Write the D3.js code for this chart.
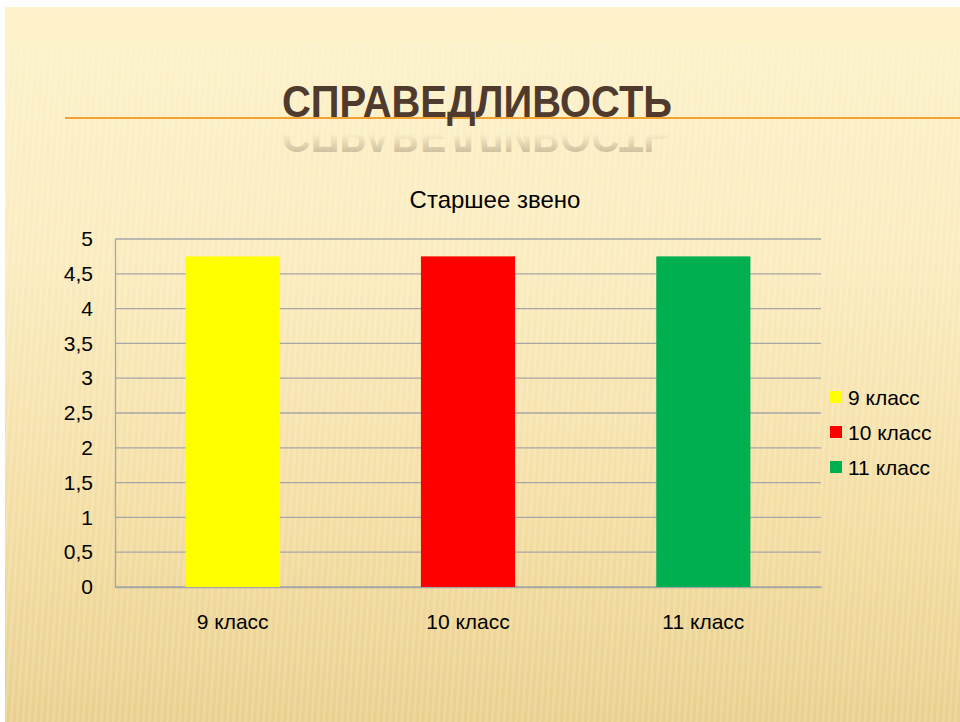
<!DOCTYPE html>
<html>
<head>
<meta charset="utf-8">
<script src="https://cdn.jsdelivr.net/npm/d3@7"></script>
<style>
  body { margin: 0; background: #fff; }
  svg { display: block; }
</style>
</head>
<body>
<div id="chart"></div>
<script>
var categories = ['9 класс', '10 класс', '11 класс'];
var values = [4.75, 4.75, 4.75];
var colors = ['#ffff00', '#ff0000', '#00b050'];
var yTicks = [0, 0.5, 1, 1.5, 2, 2.5, 3, 3.5, 4, 4.5, 5];
var slideTitle = 'СПРАВЕДЛИВОСТЬ';
var chartTitle = 'Старшее звено';

var width = 960, height = 722;
var font = '"Liberation Sans", Arial, sans-serif';

var svg = d3.select('#chart').append('svg')
    .attr('width', width)
    .attr('height', height);

var defs = svg.append('defs');

// slide background gradient
var bg = defs.append('linearGradient')
    .attr('id', 'bg')
    .attr('x1', 0).attr('y1', 0).attr('x2', 0).attr('y2', 1);
bg.append('stop').attr('offset', '0%').attr('stop-color', '#fdf2cb');
bg.append('stop').attr('offset', '35%').attr('stop-color', '#fbecbf');
bg.append('stop').attr('offset', '75%').attr('stop-color', '#f3dca0');
bg.append('stop').attr('offset', '100%').attr('stop-color', '#e9d08e');

var stripes = defs.append('pattern')
    .attr('id', 'stripes')
    .attr('width', 6).attr('height', 20)
    .attr('patternUnits', 'userSpaceOnUse')
    .attr('patternTransform', 'rotate(4)');
stripes.append('rect')
    .attr('width', 2.5).attr('height', 20)
    .attr('fill', '#ffffff').attr('opacity', 0.16);

// reflection fade
var refl = defs.append('linearGradient')
    .attr('id', 'refl')
    .attr('x1', 0).attr('y1', 0).attr('x2', 0).attr('y2', 1);
refl.append('stop').attr('offset', '0%').attr('stop-color', '#4f3a2e').attr('stop-opacity', 0.4);
refl.append('stop').attr('offset', '55%').attr('stop-color', '#4f3a2e').attr('stop-opacity', 0);

svg.append('rect')
    .attr('x', 5).attr('y', 7)
    .attr('width', width - 5).attr('height', height - 7)
    .attr('fill', 'url(#bg)');
svg.append('rect')
    .attr('x', 5).attr('y', 45)
    .attr('width', width - 5).attr('height', height - 45)
    .attr('fill', 'url(#stripes)');

// slide title
svg.append('line')
    .attr('x1', 65).attr('x2', width)
    .attr('y1', 118).attr('y2', 118)
    .attr('stroke', '#f0a332').attr('stroke-width', 2);

// reflection (drawn first, fades out below the line)
svg.append('text')
    .attr('x', 282).attr('y', 117)
    .attr('transform', 'translate(0, 238) scale(1, -1)')
    .attr('textLength', 390)
    .attr('lengthAdjust', 'spacingAndGlyphs')
    .attr('font-family', font)
    .attr('font-weight', 'bold')
    .attr('font-size', 45)
    .attr('fill', 'url(#refl)')
    .text(slideTitle);

svg.append('text')
    .attr('x', 282).attr('y', 117)
    .attr('textLength', 390)
    .attr('lengthAdjust', 'spacingAndGlyphs')
    .attr('font-family', font)
    .attr('font-weight', 'bold')
    .attr('font-size', 45)
    .attr('fill', '#4f3a2e')
    .text(slideTitle);

// chart
var margin = {left: 115, right: 139, top: 239, bottom: 135};
var plotW = width - margin.left - margin.right;
var plotH = height - margin.top - margin.bottom;

var x = d3.scaleBand()
    .domain(categories)
    .range([0, plotW])
    .paddingInner(0.6)
    .paddingOuter(0.3);

var y = d3.scaleLinear()
    .domain([0, 5])
    .range([plotH, 0]);

var g = svg.append('g')
    .attr('transform', 'translate(' + margin.left + ',' + margin.top + ')');

svg.append('text')
    .attr('x', 495).attr('y', 208)
    .attr('text-anchor', 'middle')
    .attr('font-family', font)
    .attr('font-size', 24)
    .attr('fill', '#000')
    .text(chartTitle);

// grid lines
g.selectAll('line.grid')
    .data(yTicks)
    .enter()
    .append('line')
    .attr('class', 'grid')
    .attr('x1', 0).attr('x2', plotW)
    .attr('y1', function (d) { return y(d); })
    .attr('y2', function (d) { return y(d); })
    .attr('stroke', '#a6a6a6')
    .attr('stroke-width', 1.3);

// y axis
var yAxis = d3.axisLeft(y)
    .tickValues(yTicks)
    .tickSize(0)
    .tickPadding(22)
    .tickFormat(function (d) { return String(d).replace('.', ','); });

var yG = g.append('g').call(yAxis);
yG.select('.domain').attr('stroke', '#a6a6a6').attr('stroke-width', 1.3);
yG.selectAll('text')
    .attr('font-family', font)
    .attr('font-size', 21)
    .attr('fill', '#000');

// x axis
var xAxis = d3.axisBottom(x)
    .tickSize(0)
    .tickPadding(27);

var xG = g.append('g')
    .attr('transform', 'translate(0,' + plotH + ')')
    .call(xAxis);
xG.select('.domain').attr('stroke', '#a6a6a6').attr('stroke-width', 1.3);
xG.selectAll('text')
    .attr('font-family', font)
    .attr('font-size', 21)
    .attr('fill', '#000');

// bars
g.selectAll('rect.bar')
    .data(values)
    .enter()
    .append('rect')
    .attr('class', 'bar')
    .attr('x', function (d, i) { return x(categories[i]); })
    .attr('y', function (d) { return y(d); })
    .attr('width', x.bandwidth())
    .attr('height', function (d) { return plotH - y(d); })
    .attr('fill', function (d, i) { return colors[i]; });

// legend
var legend = svg.append('g')
    .attr('transform', 'translate(830, 397)');

var item = legend.selectAll('g.item')
    .data(categories)
    .enter()
    .append('g')
    .attr('class', 'item')
    .attr('transform', function (d, i) { return 'translate(0,' + i * 35 + ')'; });

item.append('rect')
    .attr('x', 0).attr('y', -6)
    .attr('width', 12).attr('height', 12)
    .attr('fill', function (d, i) { return colors[i]; });

item.append('text')
    .attr('x', 18).attr('y', 8)
    .attr('font-family', font)
    .attr('font-size', 21)
    .attr('fill', '#000')
    .text(function (d) { return d; });
</script>
</body>
</html>
